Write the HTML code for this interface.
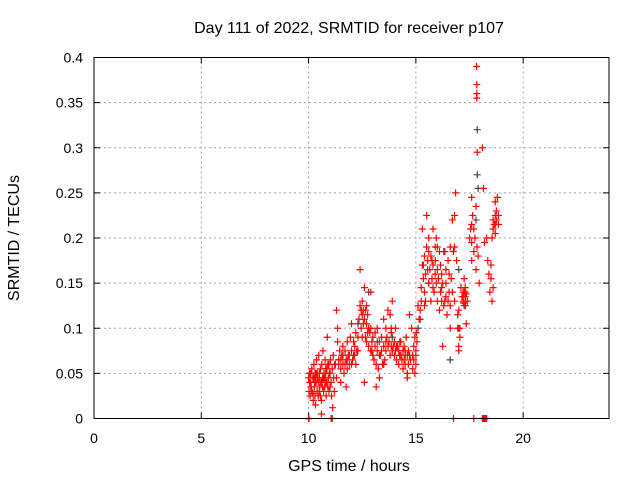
<!DOCTYPE html>
<html><head><meta charset="utf-8"><style>
html,body{margin:0;padding:0;background:#fff}
svg{display:block}
text{font-family:"Liberation Sans",sans-serif;fill:#000}
</style></head><body>
<svg id="chart" width="640" height="480" viewBox="0 0 640 480">
<rect width="640" height="480" fill="#fff"/>
<text x="349" y="33" font-size="16" text-anchor="middle">Day 111 of 2022, SRMTID for receiver p107</text>
<text x="349" y="471" font-size="16" text-anchor="middle">GPS time / hours</text>
<text transform="translate(19,238) rotate(-90)" font-size="16" text-anchor="middle">SRMTID / TECUs</text>
<g id="grid"></g><g id="ticks"></g><g id="marks"></g>
<rect x="94" y="57.5" width="515" height="361" fill="none" stroke="#000" stroke-width="1"/>
</svg>
<script>
const xTicks=[0,5,10,15,20];
const yTicks=[0,0.05,0.1,0.15,0.2,0.25,0.3,0.35,0.4];
const yTickLabels=["0","0.05","0.1","0.15","0.2","0.25","0.3","0.35","0.4"];
// red series: [hour, SRMTID]
const redEarly=[[10.0,0.045],[10.02,0.03],[10.05,0.05],[10.07,0.025],[10.1,0.04],[10.12,0.035],[10.15,0.055],[10.17,0.028],[10.2,0.045],[10.22,0.02],[10.25,0.06],[10.27,0.035],[10.3,0.05],[10.32,0.015],[10.35,0.04],[10.37,0.065],[10.4,0.03],[10.42,0.045],[10.45,0.025],[10.47,0.07],[10.5,0.05],[10.52,0.035],[10.55,0.055],[10.57,0.04],[10.6,0.02],[10.62,0.06],[10.65,0.045],[10.67,0.075],[10.7,0.03],[10.72,0.05],[10.75,0.035],[10.77,0.065],[10.8,0.04],[10.82,0.025],[10.85,0.055],[10.87,0.09],[10.9,0.06],[10.92,0.045],[10.95,0.03],[10.97,0.05],[11.0,0.035],[11.02,0.065],[11.05,0.04],[11.07,0.025],[11.1,0.055],[11.12,0.012],[11.15,0.07],[11.17,0.045],[11.2,0.03],[11.22,0.06],[10.05,0.04],[10.15,0.03],[10.25,0.045],[10.35,0.05],[10.45,0.04],[10.55,0.025],[10.65,0.035],[10.75,0.045],[10.85,0.04],[10.95,0.06],[10.6,0.005],[10.1,0.05],[10.3,0.025],[10.5,0.03],[10.7,0.045]];
const redMid=[[11.25,0.06],[11.3,0.045],[11.3,0.12],[11.35,0.085],[11.35,0.1],[11.4,0.065],[11.45,0.075],[11.5,0.055],[11.5,0.04],[11.55,0.07],[11.6,0.06],[11.6,0.08],[11.65,0.05],[11.7,0.075],[11.75,0.065],[11.8,0.055],[11.8,0.085],[11.85,0.07],[11.9,0.06],[11.95,0.09],[12.0,0.075],[12.0,0.105],[12.05,0.065],[12.1,0.085],[12.15,0.08],[12.2,0.06],[12.2,0.095],[12.25,0.075],[12.3,0.09],[12.35,0.11],[12.4,0.125],[12.4,0.165],[12.45,0.1],[12.5,0.115],[12.5,0.13],[12.55,0.12],[12.6,0.11],[12.6,0.145],[12.65,0.09],[12.7,0.125],[12.7,0.105],[12.75,0.115],[12.8,0.1],[12.8,0.08],[12.85,0.095],[12.9,0.075],[12.9,0.14],[12.95,0.085],[13.0,0.07],[13.0,0.09],[13.05,0.065],[13.1,0.08],[13.15,0.06],[13.2,0.075],[13.2,0.1],[13.25,0.055],[13.3,0.085],[13.3,0.045],[13.35,0.07],[13.4,0.09],[13.45,0.06],[13.5,0.08],[13.5,0.11],[13.55,0.065],[13.6,0.1],[13.6,0.075],[13.65,0.09],[13.7,0.12],[13.75,0.085],[13.8,0.115],[13.8,0.07],[13.85,0.095],[13.9,0.13],[13.95,0.08],[14.0,0.085],[14.0,0.07],[14.05,0.1],[14.1,0.065],[14.15,0.08],[14.2,0.075],[14.2,0.06],[14.25,0.085],[14.3,0.07],[14.35,0.065],[14.4,0.075],[14.4,0.055],[14.45,0.08],[14.5,0.07],[14.5,0.06],[14.55,0.09],[14.6,0.05],[14.65,0.075],[14.7,0.115],[14.75,0.065],[14.8,0.1],[14.85,0.055],[14.9,0.08],[14.95,0.09],[15.0,0.06],[15.0,0.07],[15.02,0.095],[15.05,0.085],[11.5,0.065],[11.7,0.06],[11.9,0.07],[12.1,0.07],[12.3,0.075],[12.5,0.09],[12.7,0.085],[12.9,0.1],[13.1,0.095],[13.3,0.07],[13.5,0.06],[13.7,0.08],[13.9,0.075],[14.1,0.08],[14.3,0.085],[14.5,0.075],[14.7,0.07],[14.9,0.065],[13.15,0.035],[14.6,0.045],[12.6,0.04],[11.75,0.035]];
const redExtra=[[10.1,0.035],[10.2,0.028],[10.3,0.04],[10.4,0.05],[10.5,0.045],[10.6,0.04],[10.8,0.05],[10.9,0.035],[11.0,0.05],[11.4,0.06],[11.6,0.07],[11.8,0.065],[12.0,0.06],[12.15,0.07],[12.45,0.12],[12.55,0.105],[12.65,0.12],[12.75,0.095],[12.95,0.075],[13.4,0.075],[13.6,0.085],[13.85,0.08],[14.05,0.075],[14.25,0.07],[14.45,0.065],[14.65,0.06],[14.85,0.07],[15.0,0.075],[14.95,0.05],[13.85,0.1],[15.35,0.17],[15.55,0.165],[15.75,0.175],[15.95,0.15],[16.15,0.14],[16.35,0.13],[16.55,0.16],[17.2,0.135],[17.25,0.14],[17.3,0.13],[17.35,0.138],[17.22,0.128],[16.95,0.115],[17.05,0.1],[17.0,0.08],[17.7,0.21],[17.6,0.195],[18.6,0.21],[18.75,0.22],[18.7,0.215],[15.25,0.13],[16.25,0.15],[16.7,0.14]];
const redLate=[[15.1,0.125],[15.15,0.11],[15.2,0.12],[15.25,0.145],[15.3,0.17],[15.3,0.21],[15.35,0.155],[15.4,0.18],[15.4,0.14],[15.45,0.16],[15.5,0.19],[15.5,0.225],[15.55,0.175],[15.6,0.15],[15.6,0.2],[15.65,0.165],[15.7,0.18],[15.7,0.13],[15.75,0.155],[15.8,0.21],[15.8,0.17],[15.85,0.14],[15.9,0.19],[15.9,0.16],[15.95,0.2],[16.0,0.13],[16.0,0.165],[16.05,0.155],[16.1,0.185],[16.1,0.12],[16.15,0.17],[16.2,0.16],[16.2,0.145],[16.25,0.08],[16.3,0.125],[16.35,0.185],[16.4,0.135],[16.4,0.15],[16.45,0.115],[16.5,0.13],[16.5,0.175],[16.55,0.14],[16.6,0.19],[16.6,0.1],[16.65,0.155],[16.7,0.22],[16.75,0.185],[16.8,0.225],[16.8,0.13],[16.85,0.25],[16.9,0.175],[16.95,0.1],[17.0,0.075],[17.0,0.12],[17.05,0.09],[17.1,0.145],[17.15,0.135],[17.2,0.14],[17.2,0.13],[17.25,0.155],[17.3,0.135],[17.35,0.105],[17.4,0.13],[17.5,0.2],[17.55,0.21],[17.6,0.175],[17.6,0.245],[17.65,0.225],[17.7,0.185],[17.75,0.2],[17.8,0.235],[17.8,0.165],[17.85,0.19],[17.83,0.39],[17.84,0.37],[17.84,0.36],[17.84,0.355],[17.86,0.295],[17.9,0.18],[17.95,0.15],[18.1,0.3],[18.15,0.255],[18.2,0.195],[18.3,0.2],[18.35,0.175],[18.4,0.16],[18.45,0.14],[18.5,0.155],[18.55,0.13],[18.55,0.2],[18.6,0.22],[18.6,0.145],[18.65,0.215],[18.7,0.24],[18.7,0.205],[18.75,0.23],[18.8,0.245],[18.85,0.215],[18.85,0.225],[15.2,0.11],[15.4,0.125],[15.6,0.185],[15.8,0.145],[16.0,0.19],[16.2,0.13],[16.4,0.165],[16.6,0.125],[16.8,0.19],[17.0,0.1],[17.3,0.14],[17.6,0.215],[18.5,0.17],[18.7,0.225],[17.25,0.125],[17.3,0.145],[15.45,0.13],[15.9,0.175]];
const redZero=[[10.0,0],[10.02,0],[11.05,0],[11.1,0],[16.75,0],[17.7,0],[18.1,0],[18.15,0],[18.2,0],[18.25,0],[18.3,0]];
// dark series
const darkPts=[[10.3,0.045],[10.8,0.055],[11.4,0.065],[12.3,0.105],[12.8,0.14],[13.2,0.085],[13.9,0.09],[14.6,0.07],[15.6,0.15],[16.3,0.185],[16.6,0.065],[17.0,0.165],[17.3,0.125],[17.86,0.32],[17.86,0.27],[17.9,0.255],[17.8,0.22],[15.1,0.1]];
const X0=94,X1=609,Y0=418.5,Y1=57.5,XMAX=24,YMAX=0.4;
function xs(h){return X0+(X1-X0)*h/XMAX;}
function ys(v){return Y0-(Y0-Y1)*v/YMAX;}
const NS="http://www.w3.org/2000/svg";
const grid=document.getElementById('grid'),ticks=document.getElementById('ticks'),marks=document.getElementById('marks');
function mk(tag,attrs,parent){const e=document.createElementNS(NS,tag);for(const k in attrs)e.setAttribute(k,attrs[k]);parent.appendChild(e);return e;}
xTicks.forEach(t=>{
  const x=xs(t);
  if(t>0){const g=mk('line',{x1:x,x2:x,y1:Y0,y2:Y1,stroke:'#a0a0a0','stroke-dasharray':'2,3'},grid);
  
  }
  const tk=mk('path',{d:`M${x},${Y0}v-6M${x},${Y1}v6`,stroke:'#000'},ticks);
  
  
  const l=mk('text',{x:x,y:443,'font-size':14,'text-anchor':'middle'},ticks);l.textContent=String(t);
  
  
});
yTicks.forEach((t,i)=>{
  const y=ys(t);
  if(t>0&&t<YMAX){const g=mk('line',{x1:X0,x2:X1,y1:y,y2:y,stroke:'#a0a0a0','stroke-dasharray':'2,3'},grid);
  
  }
  const tk=mk('path',{d:`M${X0},${y}h6M${X1},${y}h-6`,stroke:'#000'},ticks);
  
  
  const l=mk('text',{x:83,y:y+5,'font-size':14,'text-anchor':'end'},ticks);l.textContent=yTickLabels[i];
  
  
});
function plot(pts,color){
  pts.forEach(([h,v])=>{
    const x=xs(h),y=ys(v);
    const p=mk('path',{d:`M${x-3.5},${y}h7M${x},${y-3.5}v7`,stroke:color,'stroke-width':1.2},marks);
    
    
  });
}
plot(darkPts,'#444');
plot(redEarly,'#ff0000');
plot(redMid,'#ff0000');
plot(redExtra,'#ff0000');
plot(redLate,'#ff0000');
plot(redZero,'#ff0000');
</script>
</body></html>
